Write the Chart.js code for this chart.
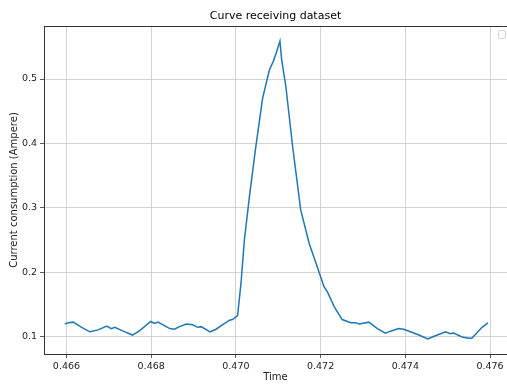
<!DOCTYPE html>
<html>
<head>
<meta charset="utf-8">
<script src="https://cdn.jsdelivr.net/npm/chart.js@4.4.1/dist/chart.umd.min.js"></script>
<style>
    html, body { margin: 0; padding: 0; background: #fff; }
    #wrap { width: 507px; height: 385px; }
</style>
</head>
<body>
<div id="wrap"><canvas id="curveChart"></canvas></div>
<script>
// values
const timeValues = [
    0.46596, 0.46604, 0.46616, 0.46636, 0.46655, 0.46675, 0.46695, 0.46706, 0.46714, 0.46734,
    0.46756, 0.46773, 0.46799, 0.46808, 0.46816, 0.46844, 0.46855, 0.46867, 0.46883, 0.46898,
    0.46910, 0.46918, 0.46939, 0.46953, 0.46969, 0.46985, 0.46992, 0.47004, 0.47012, 0.47020,
    0.47032, 0.47046, 0.47063, 0.47079, 0.47088, 0.47095, 0.47104, 0.47108, 0.47118, 0.47134,
    0.47153, 0.47173, 0.47192, 0.47208, 0.47216, 0.47232, 0.47251, 0.47271, 0.47283, 0.47291,
    0.47314, 0.47334, 0.47353, 0.47365, 0.47384, 0.47396, 0.47412, 0.47432, 0.47453, 0.47471,
    0.47495, 0.47506, 0.47514, 0.47534, 0.47549, 0.47557, 0.47581, 0.47595
];
const currentValues = [
    0.120, 0.122, 0.123, 0.115, 0.108, 0.111, 0.117, 0.113, 0.115, 0.109,
    0.103, 0.110, 0.124, 0.121, 0.123, 0.113, 0.112, 0.116, 0.120, 0.119,
    0.115, 0.116, 0.108, 0.112, 0.119, 0.126, 0.127, 0.133, 0.183, 0.250,
    0.318, 0.390, 0.470, 0.514, 0.527, 0.540, 0.559, 0.530, 0.488, 0.395,
    0.297, 0.245, 0.209, 0.178, 0.170, 0.147, 0.127, 0.122, 0.122, 0.120,
    0.123, 0.113, 0.106, 0.109, 0.113, 0.112, 0.108, 0.103, 0.097, 0.102,
    0.108, 0.105, 0.106, 0.100, 0.098, 0.098, 0.115, 0.122
];
const xTicks = [0.466, 0.468, 0.470, 0.472, 0.474, 0.476];
const yTicks = [0.1, 0.2, 0.3, 0.4, 0.5];

const fontFamily = '"DejaVu Sans", sans-serif';
const gridColor = '#c8c8c8';
const axisColor = '#333333';

// title centred over the plot area, top spine and the empty legend box
const framePlugin = {
    id: 'frame',
    afterLayout(chart) {
        const tb = chart.titleBlock;
        if (tb) {
            tb.left = chart.chartArea.left;
            tb.right = chart.chartArea.right;
            tb.width = tb.right - tb.left;
        }
    },
    afterDraw(chart) {
        const { ctx, chartArea: a } = chart;
        ctx.save();
        ctx.strokeStyle = axisColor;
        ctx.lineWidth = 1;
        ctx.beginPath();
        ctx.moveTo(a.left, a.top + 0.5);
        ctx.lineTo(chart.width, a.top + 0.5);
        ctx.stroke();
        // legend with no entries
        ctx.strokeStyle = '#d0d0d0';
        ctx.fillStyle = 'rgba(255,255,255,0.8)';
        ctx.beginPath();
        ctx.roundRect(a.right - 8.5, a.top + 4.5, 7, 8, 2);
        ctx.fill();
        ctx.stroke();
        ctx.restore();
    }
};

new Chart(document.getElementById('curveChart'), {
    type: 'scatter',
    data: {
        datasets: [{
            data: timeValues.map((t, i) => ({ x: t, y: currentValues[i] })),
            showLine: true,
            borderColor: '#1f77b4',
            borderWidth: 1.5,
            pointRadius: 0,
            tension: 0,
        }]
    },
    options: {
        responsive: true, maintainAspectRatio: false,
        animation: false,
        layout: { padding: { left: 0, right: 0, top: 0, bottom: 0 } },
        plugins: {
            legend: { display: false },
            tooltip: { enabled: false },
            title: {
                display: true,
                text: 'Curve receiving dataset',
                color: '#000',
                font: { family: fontFamily, size: 11, weight: 'normal' },
                padding: { top: 10, bottom: 2.8 }
            }
        },
        scales: {
            x: {
                type: 'linear',
                min: 0.46547,
                max: 0.47640,
                afterBuildTicks: s => { s.ticks = xTicks.map(v => ({ value: v })); },
                afterFit: s => { s.height = 31; },
                ticks: {
                    color: '#222', padding: 3, maxRotation: 0,
                    font: { family: fontFamily, size: 9.5 },
                    callback: v => v.toFixed(3)
                },
                grid: { color: gridColor, lineWidth: 0.8, tickLength: 4, tickColor: axisColor },
                border: { color: axisColor, width: 1 },
                title: {
                    display: true, text: 'Time', color: '#222',
                    font: { family: fontFamily, size: 10 },
                    padding: { top: 0, bottom: 2 }
                }
            },
            y: {
                min: 0.0736,
                max: 0.5822,
                afterBuildTicks: s => { s.ticks = yTicks.map(v => ({ value: v })); },
                afterFit: s => { s.width = 44; },
                ticks: {
                    color: '#222', padding: 3,
                    font: { family: fontFamily, size: 9.5 },
                    callback: v => v.toFixed(1)
                },
                grid: { color: gridColor, lineWidth: 0.8, tickLength: 4, tickColor: axisColor },
                border: { color: axisColor, width: 1 },
                title: {
                    display: true, text: 'Current consumption (Ampere)', color: '#222',
                    font: { family: fontFamily, size: 10 },
                    padding: { top: 8, bottom: 0 }
                }
            }
        }
    },
    plugins: [framePlugin]
});
</script>
</body>
</html>
